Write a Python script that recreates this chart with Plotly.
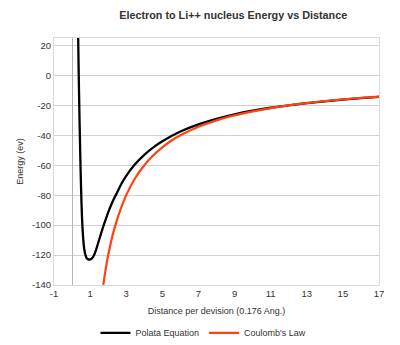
import plotly.graph_objects as go

# Black curve: "Polata Equation"
polata_x = [0.34, 0.355, 0.37, 0.39, 0.41, 0.435, 0.46, 0.49, 0.52, 0.555, 0.6, 0.65,
            0.72, 0.8, 0.9, 0.98, 1.1, 1.2, 1.3, 1.4, 1.5, 1.6, 1.73, 1.85, 2.0, 2.2,
            2.47, 2.75, 3.0, 3.45, 4.0, 4.5, 5.0, 6.0, 7.0, 8.0, 9.0, 10.0, 11.0,
            12.0, 13.0, 14.0, 15.0, 16.0, 17.0]
polata_y = [25, 12, 0, -14, -27, -42, -56, -71, -84, -96, -106, -113.5,
            -119, -121.8, -122.9, -123, -122.2, -120.5, -117.5, -113.8, -109.8, -105.8, -100.8, -96.6, -91.5, -85.5,
            -78.8, -72, -67.1, -59.9, -53.1, -48.1, -44, -37.5, -32.7, -29, -26, -23.6, -21.6,
            -19.95, -18.5, -17.3, -16.2, -15.2, -14.35]

# Red curve: "Coulomb's Law"
coulomb_x = [1.73, 2.0, 2.4, 3.0, 3.5, 4.0, 4.5, 5.0, 5.7, 6.0, 7.0, 8.0, 9.0,
             10.0, 11.0, 12.0, 13.0, 14.0, 15.0, 16.0, 17.0]
coulomb_y = [-140, -120, -100, -80, -68.5, -60, -53.3, -48, -42, -40, -34.3, -30, -26.7,
             -24, -21.8, -20, -18.5, -17.1, -16, -15, -14.1]

x_ticks = [-1, 1, 3, 5, 7, 9, 11, 13, 15, 17]
y_ticks = [20, 0, -20, -40, -60, -80, -100, -120, -140]

fig = go.Figure()
fig.add_trace(go.Scatter(x=polata_x, y=polata_y, mode="lines", name="Polata Equation",
                         line=dict(color="#000000", width=2.3, shape="spline", smoothing=1)))
fig.add_trace(go.Scatter(x=coulomb_x, y=coulomb_y, mode="lines", name="Coulomb's Law",
                         line=dict(color="#ff420e", width=2.2, shape="spline", smoothing=1)))

font = "Liberation Sans, Arial, sans-serif"
fig.update_layout(
    width=400, height=345,
    margin=dict(l=54, r=21, t=38, b=60, autoexpand=False),
    paper_bgcolor="white", plot_bgcolor="white",
    font=dict(family=font, size=9.5, color="#333333"),
    title=dict(text="<b>Electron to Li++ nucleus Energy vs Distance</b>",
               x=0.583, xanchor="center", y=0.957, yanchor="middle",
               font=dict(size=10.8, color="#333333")),
    showlegend=True,
    legend=dict(orientation="h", x=0.46, xanchor="center",
                yref="container", y=0.035, yanchor="middle",
                font=dict(size=9, color="#333333"), itemwidth=30,
                bgcolor="rgba(0,0,0,0)"),
    xaxis=dict(range=[-1, 17], tickvals=x_ticks, ticktext=[str(v) for v in x_ticks],
               automargin=False,
               showgrid=False, zeroline=True, zerolinecolor="#b3b3b3", zerolinewidth=1,
               showline=True, linecolor="#d9d9d9", linewidth=1, mirror=True,
               ticks="", tickfont=dict(size=9.5, color="#333333"),
               title=dict(text="Distance per devision (0.176 Ang.)", standoff=9,
                          font=dict(size=9, color="#333333"))),
    yaxis=dict(range=[-140, 25], tickvals=y_ticks, ticktext=[str(v) for v in y_ticks],
               automargin=False,
               showgrid=True, gridcolor="#d0d0d0", gridwidth=1,
               zeroline=False,
               showline=True, linecolor="#d9d9d9", linewidth=1, mirror=True,
               ticks="", tickfont=dict(size=9.5, color="#333333"),
               title=dict(text="Energy (ev)", standoff=6,
                          font=dict(size=9, color="#333333"))),
)

fig.write_html("out.html")
